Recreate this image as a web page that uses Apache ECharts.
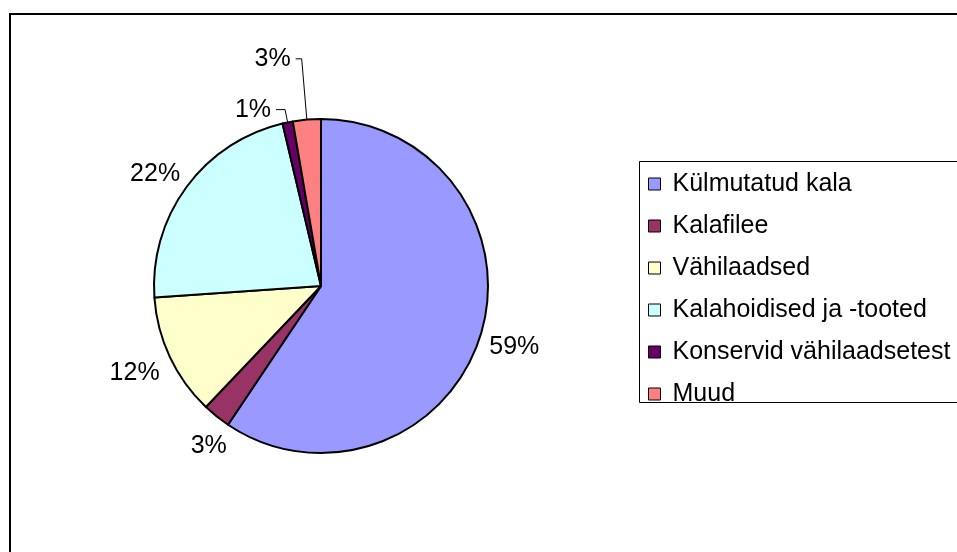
<!DOCTYPE html>
<html>
<head>
<meta charset="utf-8">
<script src="https://cdn.jsdelivr.net/npm/echarts@6/dist/echarts.min.js"></script>
<style>
html, body { margin: 0; padding: 0; background: #fff; }
#chart { width: 957px; height: 552px; }
</style>
</head>
<body>
<div id="chart"></div>
<script>
// andmed
const categories = ['Külmutatud kala', 'Kalafilee', 'Vähilaadsed', 'Kalahoidised ja -tooted', 'Konservid vähilaadsetest', 'Muud']
const shares = [59.4, 2.7, 11.8, 22.4, 1.0, 2.7]
const colors = ['#9999FF', '#993366', '#FFFFCC', '#CCFFFF', '#660066', '#FF8080']

const pieCenter = [321, 286]
const pieRadius = 167
// sildi kaugus servast (suured lõigud), väike nihe
const labelGap = [35, 27, 39, 34]
const labelNudge = [[0, 2], [9, 9], [0, -1], [-4, 7]]
// väikeste lõikude juhtjooned
const leaderLen = { 4: [13, 9], 5: [61, 6] }

const font = 'Liberation Sans, Arial, sans-serif'
const fontSize = 25

const chart = echarts.init(document.getElementById('chart'))

const pieData = categories.map((name, i) => {
    const item = { name: name, value: shares[i], itemStyle: { color: colors[i] } }
    if (leaderLen[i]) {
        item.labelLine = { show: true, length: leaderLen[i][0], length2: leaderLen[i][1] }
    }
    return item
})

// sildi asukoht lõigu keskjoonel
const placeLabel = (p) => {
    const i = p.dataIndex
    if (i >= labelGap.length) return {}
    const total = shares.reduce((a, b) => a + b, 0)
    let before = 0
    for (let k = 0; k < i; k++) before += shares[k]
    const mid = (before + shares[i] / 2) / total * Math.PI * 2
    const d = pieRadius + labelGap[i]
    return {
        x: pieCenter[0] + Math.sin(mid) * d + labelNudge[i][0],
        y: pieCenter[1] - Math.cos(mid) * d + labelNudge[i][1],
        align: 'center',
        verticalAlign: 'middle'
    }
}

chart.setOption({
    animation: false,
    backgroundColor: '#fff',
    graphic: [
        {
            type: 'rect',
            shape: { x: 10, y: 14, width: 1000, height: 600 },
            style: { fill: 'none', stroke: '#000', lineWidth: 2 },
            silent: true
        },
        {
            type: 'rect',
            shape: { x: 639.5, y: 161.5, width: 400, height: 241 },
            style: { fill: 'none', stroke: '#000', lineWidth: 1 },
            silent: true
        }
    ],
    legend: {
        orient: 'vertical',
        left: 648,
        top: 171,
        padding: 0,
        itemWidth: 12,
        itemHeight: 12,
        itemGap: 16,
        icon: 'rect',
        selectedMode: false,
        itemStyle: { borderColor: '#000', borderWidth: 1 },
        textStyle: { fontFamily: font, fontSize: fontSize, color: '#000', lineHeight: 26, padding: [0, 0, 0, 7] },
        data: categories
    },
    series: [{
        type: 'pie',
        center: pieCenter,
        radius: pieRadius,
        startAngle: 90,
        clockwise: true,
        avoidLabelOverlap: false,
        percentPrecision: 0,
        itemStyle: { borderColor: '#000', borderWidth: 2 },
        emphasis: { disabled: true },
        label: {
            show: true,
            position: 'outside',
            formatter: '{d}%',
            fontFamily: font,
            fontSize: fontSize,
            color: '#000'
        },
        labelLine: { show: false, lineStyle: { color: '#000', width: 1 } },
        labelLayout: placeLabel,
        data: pieData
    }]
})
</script>
</body>
</html>
